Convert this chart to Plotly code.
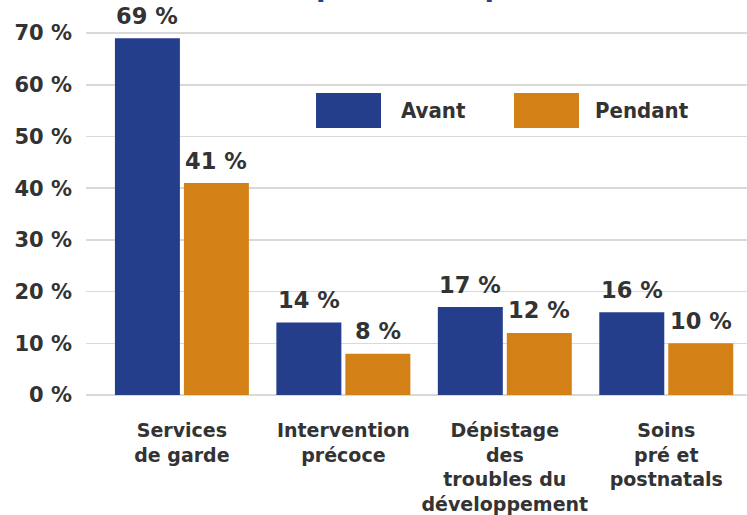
import plotly.graph_objects as go

categories = ["Services<br>de garde", "Intervention<br>précoce",
              "Dépistage<br>des<br>troubles du<br>développement", "Soins<br>pré et<br>postnatals"]
series_names = ["Avant", "Pendant"]
avant = [69, 14, 17, 16]
pendant = [41, 8, 12, 10]
tick_vals = [0, 10, 20, 30, 40, 50, 60, 70]
tick_text = ["0 %", "10 %", "20 %", "30 %", "40 %", "50 %", "60 %", "70 %"]
title_text = "avant et pendant la pandémie"

BLUE = "#243E8C"
ORANGE = "#D38017"
TXT = "#333333"
TICKFONT = dict(family="DejaVu Sans", size=21, color=TXT, weight=700)
BARFONT = dict(family="DejaVu Sans", size=22.5, color=TXT, weight=700)
LBLFONT = dict(family="DejaVu Sans", size=19, color=TXT, weight=700)

BAR_W = 0.4025   # bar width in category units
GAP = 0.0248     # gap between the two bars of a group

xs = list(range(len(categories)))
fig = go.Figure()
series = [(series_names[0], avant, BLUE, -BAR_W - GAP / 2),
          (series_names[1], pendant, ORANGE, GAP / 2)]
for name, vals, col, off in series:
    fig.add_trace(go.Bar(x=xs, y=vals, name=name, marker=dict(color=col, line=dict(width=0)),
                         width=BAR_W, offset=off, showlegend=False, hoverinfo="skip"))
    for xi, v in zip(xs, vals):
        fig.add_annotation(x=xi + off + BAR_W / 2, y=v, xref="x", yref="y",
                           text=f"{v} %", showarrow=False, yanchor="bottom", yshift=7.5,
                           font=BARFONT)

fig.update_layout(
    width=747, height=515,
    margin=dict(l=86, r=0, t=0, b=120),
    paper_bgcolor="white", plot_bgcolor="white",
    barmode="overlay",
    showlegend=False,
    xaxis=dict(range=[-0.594, 3.5], tickmode="array", tickvals=xs, ticktext=categories,
               tickfont=LBLFONT, showgrid=False, zeroline=False, showline=False,
               ticks="", ticklabelstandoff=22, automargin=False),
    yaxis=dict(range=[0, 76.4], tickmode="array", tickvals=tick_vals, ticktext=tick_text,
               tickfont=TICKFONT, gridcolor="#D9D9D9", gridwidth=1.5, zeroline=True,
               zerolinecolor="#D9D9D9", zerolinewidth=2, showline=False, ticks="",
               ticklabelstandoff=13, automargin=False),
)

# legend drawn with large swatches
leg = [(0.348, 0.4463, 0.4735, BLUE, series_names[0]), (0.6475, 0.7458, 0.767, ORANGE, series_names[1])]
for x0, x1, xt, col, name in leg:
    fig.add_shape(type="rect", xref="paper", yref="paper", x0=x0, x1=x1, y0=0.676, y1=0.7646,
                  fillcolor=col, line=dict(width=0))
    fig.add_annotation(xref="paper", yref="paper", x=xt, y=0.7203, xanchor="left", yanchor="middle",
                       text=name, showarrow=False,
                       font=dict(family="DejaVu Sans Condensed", size=22, color=TXT, weight=700))

# cut-off title at top
fig.add_annotation(xref="paper", yref="paper", x=0.148, y=1, xanchor="left", yanchor="bottom",
                   yshift=-5, text=title_text, showarrow=False,
                   font=dict(family="Roboto", size=34, color=BLUE, weight=700))

fig.write_html("out.html", config={"displayModeBar": False, "staticPlot": True},
               post_script="document.body.style.margin='0';document.body.style.overflow='hidden';")
